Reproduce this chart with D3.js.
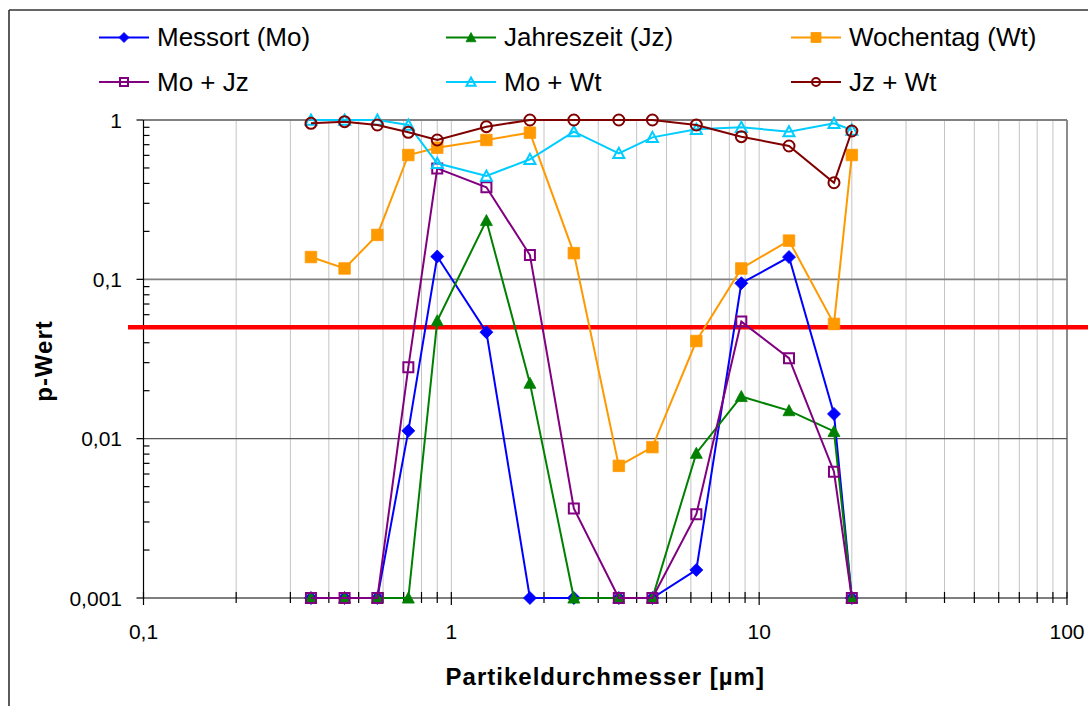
<!DOCTYPE html>
<html><head><meta charset="utf-8">
<script src="https://cdn.jsdelivr.net/npm/d3@7"></script>
<style>
body{margin:0;background:#fff;}
svg{display:block;font-family:"Liberation Sans",Arial,sans-serif;}
</style></head><body>
<svg id="chart" width="1088" height="706"></svg>
<script>
// ---- data ----
const diameters = [0.35, 0.45, 0.575, 0.725, 0.9, 1.3, 1.8, 2.5, 3.5, 4.5, 6.25, 8.75, 12.5, 17.5, 20];
const messort    = [0.001, 0.001, 0.001, 0.0112, 0.139, 0.0466, 0.001, 0.001, 0.001, 0.001, 0.0015, 0.0945, 0.138, 0.0143, 0.001];
const jahreszeit = [0.001, 0.001, 0.001, 0.001, 0.055, 0.234, 0.0223, 0.001, 0.001, 0.001, 0.0081, 0.0184, 0.015, 0.0111, 0.001];
const wochentag  = [0.138, 0.117, 0.19, 0.603, 0.67, 0.749, 0.833, 0.146, 0.00675, 0.00885, 0.041, 0.117, 0.175, 0.0525, 0.603];
const moJz       = [0.001, 0.001, 0.001, 0.0281, 0.497, 0.378, 0.142, 0.00365, 0.001, 0.001, 0.00336, 0.0543, 0.032, 0.0062, 0.001];
const moWt       = [1, 1, 1, 0.93, 0.535, 0.445, 0.567, 0.845, 0.618, 0.778, 0.874, 0.9, 0.845, 0.953, 0.866];
const jzWt       = [0.953, 0.976, 0.93, 0.837, 0.749, 0.908, 1, 1, 1, 1, 0.93, 0.786, 0.687, 0.404, 0.853];
const seriesNames = ["Messort (Mo)", "Jahreszeit (Jz)", "Wochentag (Wt)", "Mo + Jz", "Mo + Wt", "Jz + Wt"];
const seriesValues = [messort, jahreszeit, wochentag, moJz, moWt, jzWt];
const seriesColors = ["#0000ff", "#008000", "#ff9900", "#800080", "#00ccff", "#800000"];
const seriesMarkers = ["diamond", "triangle", "square", "squareOpen", "triangleOpen", "circleOpen"];
const xTickValues = [0.1, 1, 10, 100];
const xTickLabels = ["0,1", "1", "10", "100"];
const yTickValues = [0.001, 0.01, 0.1, 1];
const yTickLabels = ["0,001", "0,01", "0,1", "1"];
const threshold = 0.05;
const xTitle = "Partikeldurchmesser [µm]";
const yTitle = "p-Wert";

// ---- layout ----
const svg = d3.select("#chart");
const L = 143.5, R = 1067, T = 120, B = 598;
const x = d3.scaleLog().domain([0.1, 100]).range([L, R]);
const y = d3.scaleLog().domain([0.001, 1]).range([B, T]);

// outer chart border
svg.append("line").attr("x1", 9).attr("x2", 1088).attr("y1", 10).attr("y2", 10).attr("stroke", "#333").attr("stroke-width", 1.6);
svg.append("line").attr("x1", 9).attr("x2", 9).attr("y1", 10).attr("y2", 706).attr("stroke", "#333").attr("stroke-width", 1.6);

// minor values
const xMinor = [];
[0.1, 1, 10].forEach(d => { for (let k = 2; k <= 9; k++) xMinor.push(d * k); });
const yMinor = [];
[0.001, 0.01, 0.1].forEach(d => { for (let k = 2; k <= 9; k++) yMinor.push(d * k); });

const g = svg.append("g");
// vertical gridlines
g.selectAll(".vg").data(xMinor.concat([1, 10])).enter().append("line")
  .attr("x1", d => x(d)).attr("x2", d => x(d)).attr("y1", T).attr("y2", B)
  .attr("stroke", "#c4c4c4").attr("stroke-width", 1);
// right border
g.append("line").attr("x1", R).attr("x2", R).attr("y1", T).attr("y2", B).attr("stroke", "#666").attr("stroke-width", 1.5);
// horizontal gridlines
g.selectAll(".hg").data([0.01, 0.1, 1]).enter().append("line")
  .attr("x1", L).attr("x2", R).attr("y1", d => y(d)).attr("y2", d => y(d))
  .attr("stroke", d => d === 0.01 ? "#555" : "#808080").attr("stroke-width", d => d === 0.01 ? 1.2 : 1.8);

// axes lines
g.append("line").attr("x1", L).attr("x2", L).attr("y1", T).attr("y2", B).attr("stroke", "#000").attr("stroke-width", 1.2);
g.append("line").attr("x1", L).attr("x2", R).attr("y1", B).attr("y2", B).attr("stroke", "#000").attr("stroke-width", 1.2);

// y ticks
g.selectAll(".ymaj").data(yTickValues).enter().append("line")
  .attr("x1", L - 7).attr("x2", L).attr("y1", d => y(d)).attr("y2", d => y(d)).attr("stroke", "#000").attr("stroke-width", 1.2);
g.selectAll(".ymin").data(yMinor).enter().append("line")
  .attr("x1", L).attr("x2", L + 6).attr("y1", d => y(d)).attr("y2", d => y(d)).attr("stroke", "#000").attr("stroke-width", 1.2);
// x ticks
g.selectAll(".xmaj").data(xTickValues).enter().append("line")
  .attr("x1", d => x(d)).attr("x2", d => x(d)).attr("y1", B - 6).attr("y2", B + 7).attr("stroke", "#000").attr("stroke-width", 1.2);
g.selectAll(".xmin").data(xMinor).enter().append("line")
  .attr("x1", d => x(d)).attr("x2", d => x(d)).attr("y1", B - 6).attr("y2", B + 5).attr("stroke", "#000").attr("stroke-width", 1.2);

// tick labels
g.selectAll(".yl").data(yTickValues).enter().append("text")
  .attr("x", 122).attr("y", d => y(d) + 7.5).attr("text-anchor", "end")
  .attr("font-size", 21).attr("fill", "#000").text((d, i) => yTickLabels[i]);
g.selectAll(".xl").data(xTickValues).enter().append("text")
  .attr("x", d => x(d)).attr("y", 639).attr("text-anchor", "middle")
  .attr("font-size", 21).attr("fill", "#000").text((d, i) => xTickLabels[i]);

// axis titles
svg.append("text").attr("x", (L + R) / 2).attr("y", 685).attr("text-anchor", "middle")
  .attr("font-size", 24).attr("font-weight", "bold").attr("letter-spacing", 1).text(xTitle);
svg.append("text").attr("transform", "translate(52,361) rotate(-90)").attr("text-anchor", "middle")
  .attr("font-size", 24).attr("font-weight", "bold").attr("letter-spacing", 1).text(yTitle);

// threshold line
svg.append("line").attr("x1", 128).attr("x2", 1088).attr("y1", y(threshold)).attr("y2", y(threshold))
  .attr("stroke", "#ff0000").attr("stroke-width", 4.5);

// markers
function markerPath(kind, s) {
  const h = s / 2;
  switch (kind) {
    case "diamond": return `M0,${-h}L${h},0L0,${h}L${-h},0Z`;
    case "triangle": case "triangleOpen": return `M0,${-h}L${h},${h * 0.85}L${-h},${h * 0.85}Z`;
    case "square": case "squareOpen": return `M${-h},${-h}H${h}V${h}H${-h}Z`;
    case "circleOpen": return d3.symbol(d3.symbolCircle, Math.PI * h * h)();
  }
}
function drawMarker(sel, kind, color, s) {
  const open = kind.endsWith("Open");
  sel.append("path").attr("d", markerPath(kind, s))
    .attr("fill", open ? "none" : color)
    .attr("stroke", color).attr("stroke-width", open ? 2 : 0.8)
    .attr("stroke-linejoin", "miter");
}
const markerSize = { diamond: 13, triangle: 12, square: 11.5, squareOpen: 10, triangleOpen: 11, circleOpen: 11 };

const line = d3.line().x(d => x(d[0])).y(d => y(d[1]));
seriesValues.forEach((vals, i) => {
  const pts = diameters.map((d, j) => [d, vals[j]]);
  const sg = svg.append("g");
  sg.append("path").datum(pts).attr("d", line).attr("fill", "none")
    .attr("stroke", seriesColors[i]).attr("stroke-width", 2);
  sg.selectAll(".m").data(pts).enter().append("g")
    .attr("transform", d => `translate(${x(d[0])},${y(d[1])})`)
    .each(function () { drawMarker(d3.select(this), seriesMarkers[i], seriesColors[i], markerSize[seriesMarkers[i]]); });
});

// legend
const colX = [99, 446, 791], rowY = [37.5, 82];
const legendSize = { diamond: 10, triangle: 10, square: 10, squareOpen: 8, triangleOpen: 9, circleOpen: 8 };
seriesNames.forEach((name, i) => {
  const lx = colX[i % 3], ly = rowY[Math.floor(i / 3)];
  const lg = svg.append("g");
  lg.append("line").attr("x1", lx).attr("x2", lx + 50).attr("y1", ly).attr("y2", ly)
    .attr("stroke", seriesColors[i]).attr("stroke-width", 2);
  const mg = lg.append("g").attr("transform", `translate(${lx + 25},${ly})`);
  drawMarker(mg, seriesMarkers[i], seriesColors[i], legendSize[seriesMarkers[i]]);
  lg.append("text").attr("x", lx + 58).attr("y", ly + 8.5).attr("font-size", 26).attr("fill", "#000").text(name);
});
</script>
</body></html>
